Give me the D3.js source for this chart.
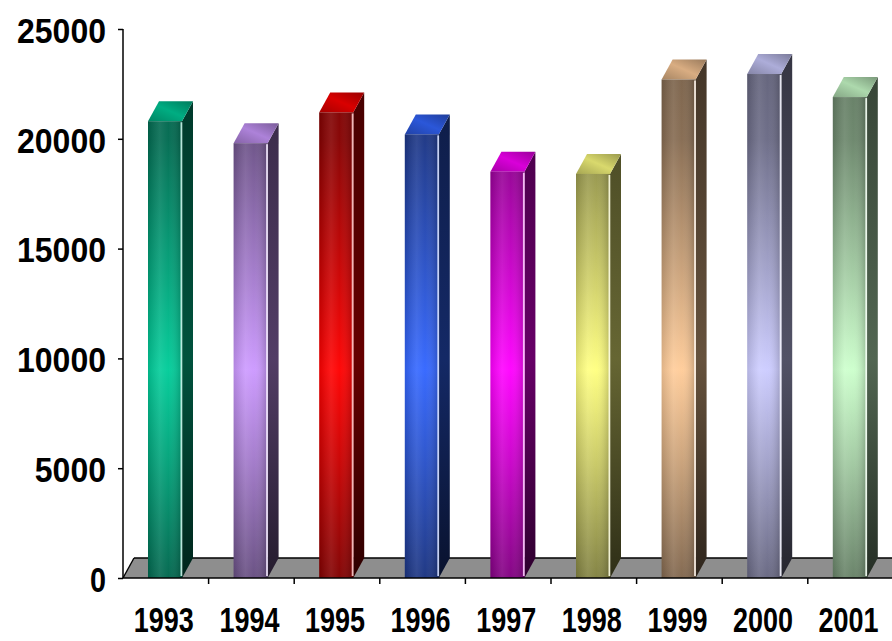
<!DOCTYPE html>
<html>
<head>
<meta charset="utf-8">
<script src="https://cdn.jsdelivr.net/npm/d3@7"></script>
<style>
  html, body { margin: 0; padding: 0; background: #ffffff; }
  svg { display: block; }
  .lbl { font-family: "Liberation Sans", Arial, sans-serif; font-weight: bold; font-size: 35px; fill: #000; }
</style>
</head>
<body>
<svg id="chart" width="892" height="641"></svg>
<script>
// ---- data ----
const years = ["1993", "1994", "1995", "1996", "1997", "1998", "1999", "2000", "2001"];
const values = [20800, 19800, 21200, 20200, 18500, 18400, 22700, 22950, 21900];
const barColors = ["#00cc99", "#cc99ff", "#ff0000", "#3366ff", "#ff00ff", "#ffff80", "#ffcc99", "#ccccff", "#ccffcc"];
const yTicks = [0, 5000, 10000, 15000, 20000, 25000];

// ---- layout ----
const W = 892, H = 641;
const svg = d3.select("#chart");
const x = d3.scaleBand().domain(years).range([123, 123 + 9 * 85.6]).paddingInner(0).paddingOuter(0);
const y = d3.scaleLinear().domain([0, 25000]).range([578, 29]);
const dx = 11, dy = 20;          // depth offset
const faceOff = 25, faceW = 34;  // front face inside band

const defs = svg.append("defs");
const shade = (c, t) => d3.interpolateRgb(c, "#000")(t);
const tint = (c, t) => d3.interpolateRgb(c, "#fff")(t);

barColors.forEach((c, i) => {
  const g = defs.append("linearGradient").attr("id", "front" + i)
    .attr("gradientUnits", "userSpaceOnUse").attr("x1", 0).attr("x2", 0).attr("y1", y(25000)).attr("y2", y(0));
  [[0, shade(c, 0.55)], [0.2, shade(c, 0.48)], [0.45, shade(c, 0.2)], [0.62, c], [0.78, shade(c, 0.2)], [1, shade(c, 0.5)]]
    .forEach(([o, col]) => g.append("stop").attr("offset", o).attr("stop-color", col));
  const s = defs.append("linearGradient").attr("id", "side" + i)
    .attr("gradientUnits", "userSpaceOnUse").attr("x1", 0).attr("x2", 0).attr("y1", y(25000)).attr("y2", y(0));
  [[0, shade(c, 0.75)], [0.6, shade(c, 0.6)], [1, shade(c, 0.82)]]
    .forEach(([o, col]) => s.append("stop").attr("offset", o).attr("stop-color", col));
  const t = defs.append("linearGradient").attr("id", "top" + i)
    .attr("x1", 0).attr("x2", 1).attr("y1", 1).attr("y2", 0);
  [[0, shade(c, 0.35)], [0.5, shade(c, 0.15)], [1, shade(c, 0.4)]]
    .forEach(([o, col]) => t.append("stop").attr("offset", o).attr("stop-color", col));
});
const hg = defs.append("linearGradient").attr("id", "hshade").attr("x1", 0).attr("x2", 1).attr("y1", 0).attr("y2", 0);
[[0, "rgba(0,0,0,0.12)"], [0.35, "rgba(255,255,255,0.10)"], [0.6, "rgba(255,255,255,0.03)"], [1, "rgba(0,0,0,0.22)"]]
  .forEach(([o, col]) => hg.append("stop").attr("offset", o).attr("stop-color", col));

// ---- floor ----
const x0 = x.range()[0], x1 = x.range()[1] + 20, y0 = y(0);
svg.append("polygon")
  .attr("points", [[x0, y0], [x1, y0], [x1 + dx, y0 - dy], [x0 + dx, y0 - dy]].map(p => p.join(",")).join(" "))
  .attr("fill", "#8e8e8e");
svg.append("line").attr("x1", x0 + dx).attr("x2", x1 + dx).attr("y1", y0 - dy).attr("y2", y0 - dy)
  .attr("stroke", "#000").attr("stroke-width", 1.6);
svg.append("line").attr("x1", x0).attr("x2", x0 + dx).attr("y1", y0).attr("y2", y0 - dy)
  .attr("stroke", "#000").attr("stroke-width", 1.4);

// ---- bars ----
const bars = svg.append("g").selectAll("g").data(years).join("g");
bars.each(function (d, i) {
  const g = d3.select(this);
  const bx = x(d) + faceOff, by = y(values[i]);
  g.append("polygon")
    .attr("points", [[bx + faceW, by], [bx + faceW + dx, by - dy], [bx + faceW + dx, y0 - dy], [bx + faceW, y0]].map(p => p.join(",")).join(" "))
    .attr("fill", `url(#side${i})`);
  g.append("polygon")
    .attr("points", [[bx, by], [bx + faceW, by], [bx + faceW + dx, by - dy], [bx + dx, by - dy]].map(p => p.join(",")).join(" "))
    .attr("fill", `url(#top${i})`);
  g.append("rect").attr("x", bx).attr("y", by).attr("width", faceW).attr("height", y0 - by)
    .attr("fill", `url(#front${i})`);
  g.append("rect").attr("x", bx).attr("y", by).attr("width", faceW).attr("height", y0 - by)
    .attr("fill", "url(#hshade)");
  g.append("rect").attr("x", bx + faceW - 1.5).attr("y", by + 1).attr("width", 1.8).attr("height", y0 - by - 3)
    .attr("fill", tint(barColors[i], 0.8)).attr("opacity", 0.9);
});

// ---- y axis ----
const yAxis = d3.axisLeft(y).tickValues(yTicks).tickSize(5).tickPadding(12).tickFormat(d3.format("d"));
const yg = svg.append("g").attr("transform", `translate(${x0},0)`).call(yAxis);
yg.select(".domain").attr("stroke", "#000").attr("stroke-width", 1.5).attr("d", `M0,${y(25000)}V${y(0)}`);
yg.selectAll(".tick line").attr("stroke", "#000").attr("stroke-width", 1.5);
yg.selectAll(".tick text").attr("class", "lbl")
  .attr("dy", "0.38em")
  .attr("textLength", d => String(d).length === 1 ? 16 : String(d).length * 17.8)
  .attr("lengthAdjust", "spacingAndGlyphs");
yg.attr("font-size", null).attr("font-family", null);

// ---- x axis ----
const xAxis = d3.axisBottom(x).tickSizeInner(0).tickSizeOuter(0).tickPadding(29);
const xg = svg.append("g").attr("transform", `translate(0,${y0})`).call(xAxis);
xg.select(".domain").attr("stroke", "#000").attr("stroke-width", 1.6).attr("d", `M${x0},0H${x1}`);
xg.selectAll(".tick text").attr("class", "lbl").attr("dy", "0.71em").attr("dx", -2)
  .attr("textLength", 60).attr("lengthAdjust", "spacingAndGlyphs");
xg.attr("font-size", null).attr("font-family", null);
xg.selectAll(".bt").data(years).join("line").attr("class", "bt")
  .attr("x1", d => x(d) + x.bandwidth()).attr("x2", d => x(d) + x.bandwidth())
  .attr("y1", 0).attr("y2", 6).attr("stroke", "#000").attr("stroke-width", 1.5);
</script>
</body>
</html>
